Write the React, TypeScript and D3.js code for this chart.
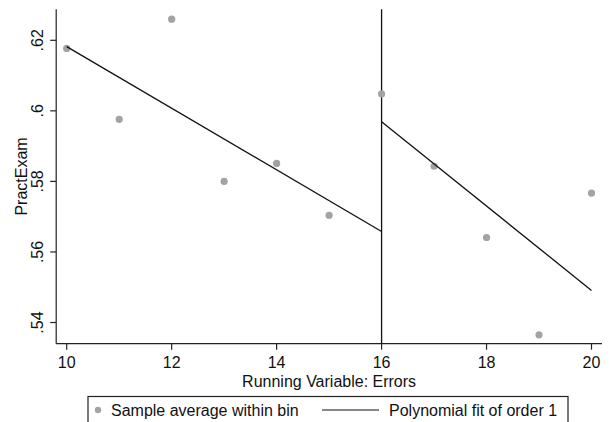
import React from 'react'
import * as d3 from 'd3'

// binned sample averages
const bins = [10, 11, 12, 13, 14, 15, 16, 17, 18, 19, 20]
const binMeans = [0.6177, 0.5976, 0.626, 0.58, 0.5851, 0.5704, 0.6048, 0.5843, 0.5641, 0.5365, 0.5767]

// linear fits on each side of the cutoff
const fitLeftX = [10, 16]
const fitLeftY = [0.6182, 0.5658]
const fitRightX = [16, 20]
const fitRightY = [0.5969, 0.5491]

const cutoff = 16
const xTicks = [10, 12, 14, 16, 18, 20]
const yTicks = [0.54, 0.56, 0.58, 0.6, 0.62]
const yTickLabels = ['.54', '.56', '.58', '.6', '.62']

const W = 610
const H = 422
const font = '"Liberation Sans", Arial, Helvetica, sans-serif'

function App() {
  const x = d3.scaleLinear().domain([10, 20]).range([66.7, 591.5])
  const y = d3.scaleLinear().domain([0.54, 0.62]).range([322.5, 40.3])
  const xLo = x(9.8)
  const xHi = x(20.2)
  const yTop = y(0.6288)
  const yBot = y(0.534)

  const line = d3
    .line<[number, number]>()
    .x((d) => x(d[0]))
    .y((d) => y(d[1]))

  const left = fitLeftX.map((v, i) => [v, fitLeftY[i]] as [number, number])
  const right = fitRightX.map((v, i) => [v, fitRightY[i]] as [number, number])

  return (
    <svg
      width={W}
      height={H}
      style={{ position: 'absolute', left: 0, top: 0, background: '#fff' }}
      fontFamily={font}
    >
      {/* axes */}
      <line x1={xLo} x2={xHi} y1={yBot} y2={yBot} stroke="#222" strokeWidth={1.2} />
      <line x1={xLo} x2={xLo} y1={yTop} y2={yBot} stroke="#222" strokeWidth={1.2} />

      {yTicks.map((t, i) => (
        <g key={t}>
          <line x1={xLo - 6} x2={xLo} y1={y(t)} y2={y(t)} stroke="#222" strokeWidth={1.2} />
          <text
            transform={`translate(${xLo - 13},${y(t)}) rotate(-90)`}
            textAnchor="middle"
            fontSize={16}
            fill="#111"
          >
            {yTickLabels[i]}
          </text>
        </g>
      ))}

      {xTicks.map((t) => (
        <g key={t}>
          <line x1={x(t)} x2={x(t)} y1={yBot} y2={yBot + 6} stroke="#222" strokeWidth={1.2} />
          <text x={x(t)} y={368} textAnchor="middle" fontSize={16} fill="#111">
            {t}
          </text>
        </g>
      ))}

      <text x={(xLo + xHi) / 2} y={387} textAnchor="middle" fontSize={16} fill="#111">
        Running Variable: Errors
      </text>
      <text
        transform={`translate(27,${(yTop + yBot) / 2}) rotate(-90)`}
        textAnchor="middle"
        fontSize={16}
        fill="#111"
      >
        PractExam
      </text>

      {/* cutoff */}
      <line x1={x(cutoff)} x2={x(cutoff)} y1={yTop} y2={yBot} stroke="#111" strokeWidth={1.3} />

      {/* points */}
      {bins.map((b, i) => (
        <circle key={b} cx={x(b)} cy={y(binMeans[i])} r={3.6} fill="#a3a3a3" />
      ))}

      {/* fits */}
      <path d={line(left) || ''} fill="none" stroke="#111" strokeWidth={1.3} />
      <path d={line(right) || ''} fill="none" stroke="#111" strokeWidth={1.3} />

      {/* legend */}
      <rect x={88} y={396.5} width={480} height={40} fill="none" stroke="#222" strokeWidth={1.2} />
      <circle cx={98} cy={410} r={3.2} fill="#a3a3a3" />
      <text x={111} y={416} fontSize={16} fill="#111">
        Sample average within bin
      </text>
      <line x1={322} x2={379} y1={410} y2={410} stroke="#111" strokeWidth={1.2} />
      <text x={389} y={416} fontSize={16} fill="#111">
        Polynomial fit of order 1
      </text>
    </svg>
  )
}

export default App
